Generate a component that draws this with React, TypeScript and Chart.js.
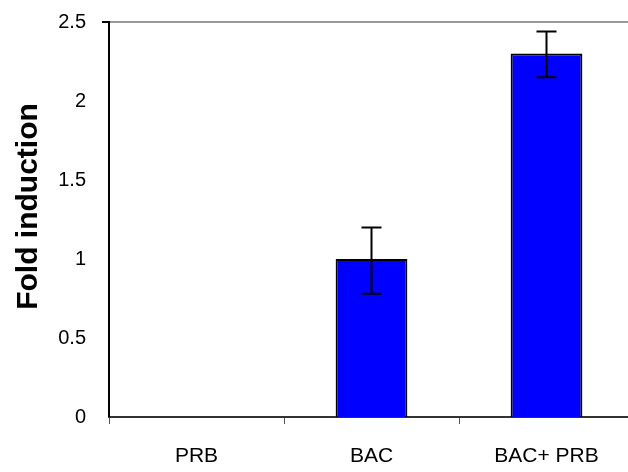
import React, { useEffect, useRef } from "react";
import { Chart, registerables } from "chart.js";

Chart.register(...registerables);

const categories = ["PRB", "BAC", "BAC+ PRB"];
const foldValues: (number | null)[] = [null, 1.0, 2.3];
const errLow: (number | null)[] = [null, 0.78, 2.15];
const errHigh: (number | null)[] = [null, 1.2, 2.44];
const yTicks = [0, 0.5, 1, 1.5, 2, 2.5];

const FONT = "Arial, 'Liberation Sans', sans-serif";

const errorBarPlugin = {
  id: "errorBars",
  afterDatasetsDraw(chart: any) {
    const { ctx } = chart;
    const meta = chart.getDatasetMeta(0);
    const y = chart.scales.y;
    ctx.save();
    ctx.strokeStyle = "#000";
    ctx.lineWidth = 2;
    meta.data.forEach((bar: any, i: number) => {
      const lo = errLow[i];
      const hi = errHigh[i];
      if (lo == null || hi == null) return;
      const x = bar.x;
      const yl = y.getPixelForValue(lo);
      const yh = y.getPixelForValue(hi);
      const cap = 10;
      ctx.beginPath();
      ctx.moveTo(x, yl);
      ctx.lineTo(x, yh);
      ctx.moveTo(x - cap, yl);
      ctx.lineTo(x + cap, yl);
      ctx.moveTo(x - cap, yh);
      ctx.lineTo(x + cap, yh);
      ctx.stroke();
    });
    ctx.restore();
  },
};

export default function App() {
  const ref = useRef<HTMLCanvasElement>(null);
  useEffect(() => {
    if (!ref.current) return;
    const chart = new Chart(ref.current, {
      type: "bar",
      data: {
        labels: categories,
        datasets: [
          {
            data: foldValues as any,
            backgroundColor: "#0000ff",
            borderColor: "#000",
            borderWidth: 2,
            barPercentage: 0.41,
            categoryPercentage: 1,
          },
        ],
      },
      plugins: [errorBarPlugin],
      options: {
        animation: false,
        responsive: false,
        maintainAspectRatio: false,
        layout: { padding: { top: 22, right: 6, left: 0, bottom: 0 } },
        plugins: { legend: { display: false }, tooltip: { enabled: false } },
        scales: {
          x: {
            afterFit: (s: any) => {
              s.height = 55;
              s.paddingLeft = 0;
              s.paddingRight = 0;
            },
            grid: {
              offset: true,
              drawOnChartArea: false,
              drawTicks: true,
              tickLength: 7,
              tickColor: "#555",
            },
            border: { display: true, color: "#333", width: 2 },
            ticks: {
              color: "#000",
              padding: 20,
              font: { family: FONT, size: 21 },
            },
          },
          y: {
            min: 0,
            max: 2.5,
            afterFit: (s: any) => {
              s.width = 109;
              s.paddingTop = 0;
              s.paddingBottom = 0;
              if (!s.__titleShifted) {
                const orig = s.drawTitle;
                s.drawTitle = function (...args: any[]) {
                  const ctx = this.ctx;
                  ctx.save();
                  ctx.translate(0, -13);
                  orig.apply(this, args);
                  ctx.restore();
                };
                s.__titleShifted = true;
              }
            },
            afterBuildTicks: (s: any) => {
              s.ticks = yTicks.map((v) => ({ value: v }));
            },
            grid: {
              drawOnChartArea: true,
              color: (c: any) => (c.tick && c.tick.value === 2.5 ? "#999" : "rgba(0,0,0,0)"),
              lineWidth: (c: any) => (c.tick && c.tick.value === 2.5 ? 2 : 0),
              drawTicks: true,
              tickLength: 7,
              tickColor: "#000",
            },
            border: { display: true, color: "#000", width: 2 },
            ticks: {
              color: "#000",
              padding: 16,
              font: { family: FONT, size: 20 },
              callback: (v: any) => String(v),
            },
            title: {
              display: true,
              text: "Fold induction",
              color: "#000",
              font: { family: FONT, size: 30, weight: "bold" },
              padding: { top: 11, bottom: 0 },
            },
          },
        },
      },
    });
    return () => chart.destroy();
  }, []);
  return (
    <div style={{ position: "fixed", left: 0, top: 0, width: 628, height: 472, overflow: "hidden", background: "#fff" }}>
      <canvas ref={ref} width={640} height={472} style={{ display: "block", width: 640, height: 472 }} />
    </div>
  );
}
